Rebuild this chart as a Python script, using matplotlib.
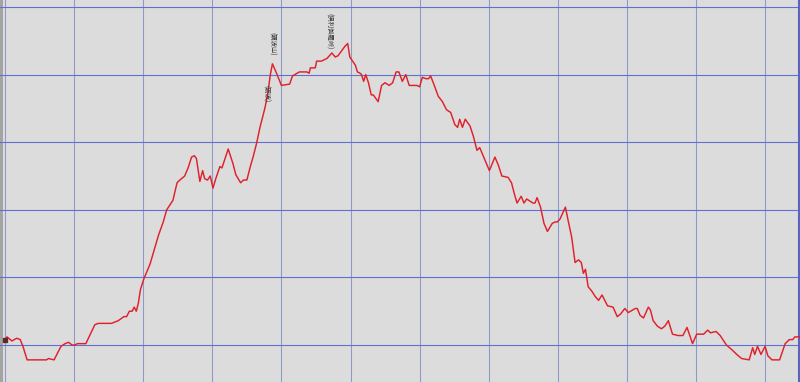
import matplotlib
matplotlib.use("Agg")
import matplotlib.pyplot as plt

# distance along route (km) and elevation (m)
distance_km = [0.00, 0.03, 0.10, 0.17, 0.22, 0.26, 0.32, 0.60, 0.63, 0.71,
               0.81, 0.87, 0.92, 0.97, 1.01, 1.05, 1.17, 1.30, 1.35, 1.54,
               1.64, 1.72, 1.76, 1.80, 1.84, 1.87, 1.90, 1.93, 1.96, 2.01,
               2.10, 2.22, 2.29, 2.34, 2.43, 2.49, 2.53, 2.60, 2.65, 2.70,
               2.74, 2.77, 2.82, 2.86, 2.89, 2.93, 2.97, 3.01, 3.05, 3.11,
               3.14, 3.23, 3.30, 3.34, 3.41, 3.45, 3.50, 3.55, 3.59, 3.64,
               3.69, 3.76, 3.80, 3.84, 3.87, 3.93, 4.00, 4.12, 4.16, 4.26,
               4.32, 4.37, 4.40, 4.42, 4.49, 4.51, 4.58, 4.66, 4.73, 4.78,
               4.82, 4.92, 4.96, 4.99, 5.07, 5.10, 5.14, 5.16, 5.19, 5.22,
               5.26, 5.30, 5.33, 5.40, 5.45, 5.50, 5.56, 5.61, 5.66, 5.70,
               5.75, 5.80, 5.85, 5.96, 6.00, 6.04, 6.09, 6.13, 6.16, 6.22,
               6.27, 6.33, 6.39, 6.45, 6.51, 6.55, 6.58, 6.62, 6.66, 6.73,
               6.78, 6.83, 6.87, 6.92, 7.01, 7.09, 7.14, 7.19, 7.28, 7.33,
               7.37, 7.41, 7.47, 7.51, 7.55, 7.61, 7.64, 7.67, 7.70, 7.75,
               7.80, 7.85, 7.92, 7.96, 7.99, 8.03, 8.11, 8.15, 8.20, 8.25,
               8.30, 8.34, 8.37, 8.40, 8.44, 8.49, 8.54, 8.59, 8.64, 8.72,
               8.80, 8.86, 8.91, 8.97, 9.02, 9.12, 9.15, 9.19, 9.24, 9.31,
               9.34, 9.38, 9.44, 9.50, 9.55, 9.60, 9.66, 9.74, 9.81, 9.87,
               9.95, 10.01, 10.11, 10.17, 10.21, 10.29, 10.35, 10.44, 10.53, 10.59,
               10.66, 10.77, 10.82, 10.85, 10.89, 10.94, 11.00, 11.04, 11.10, 11.21,
               11.29, 11.35, 11.40, 11.43, 11.50]

elevation_m = [54, 56, 53, 55, 54, 49, 39, 39, 40, 39,
               49, 51, 52, 50, 50, 51, 51, 65, 66, 66,
               68, 71, 71, 75, 75, 78, 75, 81, 91, 99,
               110, 131, 141, 150, 157, 170, 172, 175, 181, 189,
               190, 188, 171, 179, 173, 172, 175, 166, 173, 182,
               181, 195, 184, 176, 170, 172, 172, 182, 189, 199,
               211, 225, 235, 250, 258, 251, 242, 243, 249, 252,
               252, 252, 251, 255, 255, 260, 260, 262, 266, 263,
               264, 271, 273, 263, 257, 252, 251, 250, 245, 250,
               244, 235, 235, 230, 242, 244, 242, 244, 252, 252,
               245, 250, 242, 242, 241, 248, 247, 247, 249, 241,
               234, 230, 224, 222, 213, 211, 217, 211, 217, 212,
               204, 194, 196, 190, 179, 189, 183, 175, 174, 170,
               162, 155, 160, 155, 158, 156, 155, 155, 159, 152,
               140, 134, 140, 141, 141, 143, 152, 142, 130, 111,
               113, 111, 103, 106, 93, 90, 86, 83, 87, 79,
               78, 71, 73, 77, 74, 77, 77, 72, 70, 78,
               76, 68, 64, 62, 64, 68, 58, 57, 57, 63,
               51, 58, 58, 61, 59, 60, 57, 50, 46, 43,
               40, 39, 48, 43, 49, 43, 49, 42, 39, 39,
               51, 54, 54, 56, 56]

labels = ["(礪波山)", "(倶利伽羅峠)", "(砺波)"]
label_km = [3.855, 4.68, 3.78]
label_top_m = [281.5, 295.5, 242.5]

x_grid_km = list(range(0, 12))
y_grid_m = [50, 100, 150, 200, 250, 300]

fig = plt.figure(figsize=(8.0, 3.82), dpi=100)
ax = fig.add_axes([0, 0, 1, 1])
ax.set_facecolor("#dcdcdc")
fig.patch.set_facecolor("#dcdcdc")

xmin, xmax = -5 / 69.1, 795 / 69.1
ymin, ymax = 22.63, 305.2
ax.set_xlim(xmin, xmax)
ax.set_ylim(ymin, ymax)

# left gray strip
ax.axvspan(xmin, -2 / 69.1, color="#a4a4a4", zorder=1, lw=0)

for xv in x_grid_km:
    ax.axvline(xv, color="#8e98cc", lw=0.75, zorder=2)
for yv in y_grid_m:
    ax.axhline(yv, color="#5f70d0", lw=0.8, zorder=2)
ax.axvline(793.5 / 69.1, color="#5a64c0", lw=1.5, zorder=2)

ax.plot(distance_km, elevation_m, color="#e0202a", lw=1.05, zorder=4)
ax.plot([distance_km[0]], [elevation_m[0]], marker="s", ms=2.5,
        color="#5a2a2a", zorder=5)

for t, xk, ym in zip(labels, label_km, label_top_m):
    ax.text(xk, ym, t, rotation=270, ha="center", va="top",
            fontsize=4.6, color="#333333",
            family=["Noto Sans CJK JP", "DejaVu Sans"], zorder=6)

ax.set_xticks([])
ax.set_yticks([])
for s in ax.spines.values():
    s.set_visible(False)

fig.savefig("out.png", dpi=100, facecolor=fig.get_facecolor())
